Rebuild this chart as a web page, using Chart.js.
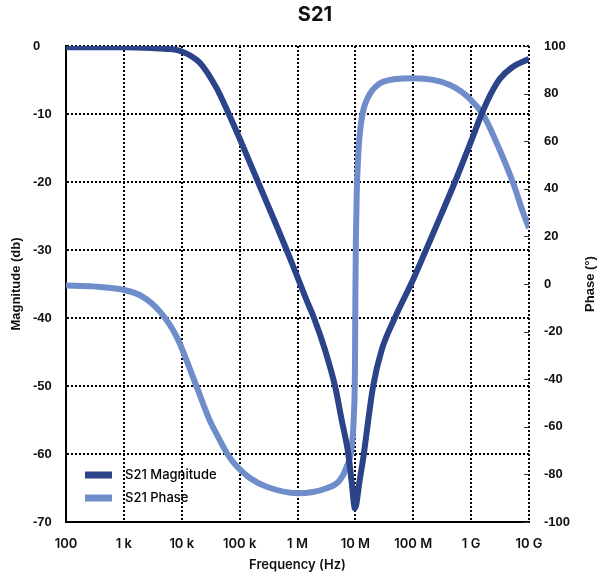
<!DOCTYPE html>
<html>
<head>
<meta charset="utf-8">
<script src="https://cdn.jsdelivr.net/npm/chart.js@4.4.1/dist/chart.umd.min.js"></script>
<style>
  html, body { margin: 0; padding: 0; background: #fff; }
  #wrap { width: 597px; height: 579px; }
</style>
</head>
<body>
<div id="wrap"><canvas id="s21Chart"></canvas></div>
<script>
// S21 magnitude (dB) vs frequency (Hz)
const magFreq = [100, 300, 1e3, 3e3, 5e3, 1e4, 2.07e4, 4e4, 6.5e4, 1e5, 2.08e5, 4e5, 6.5e5, 1e6, 1.44e6, 1.93e6, 2.99e6, 4.45e6, 5.8e6, 7.55e6, 8.6e6, 9.84e6, 1.18e7, 1.4e7, 1.67e7, 2.03e7, 2.85e7, 4.8e7, 1e8, 1.66e8, 3e8, 5.25e8, 1e9, 1.52e9, 2.2e9, 3.16e9, 5e9, 1e10];
const magDb = [-0.2, -0.2, -0.2, -0.3, -0.4, -0.8, -2.5, -6.2, -10, -13.6, -20, -25.7, -30, -34, -37.4, -40, -44.7, -50, -55, -60, -64, -68, -64, -60, -55, -50, -44.7, -40, -34.3, -30, -24.9, -20, -14, -10, -7, -4.8, -3.2, -1.9];

// S21 phase (deg) vs frequency (Hz)
const phaseFreq = [100, 300, 1e3, 2e3, 4.2e3, 8.1e3, 1.8e4, 3e4, 4.2e4, 6e4, 8e4, 1e5, 1.5e5, 2.94e5, 1e6, 3.19e6, 5.4e6, 7.08e6, 8.63e6, 9.46e6, 9.84e6, 1e7, 1.02e7, 1.055e7, 1.1e7, 1.16e7, 1.24e7, 1.37e7, 1.55e7, 1.79e7, 2.2e7, 3.04e7, 1e8, 4.31e8, 1e9, 1.62e9, 3.16e9, 5.4e9, 7.9e9, 1e10];
const phaseDeg = [-0.6, -1, -2.5, -5, -11.6, -22, -43, -57, -64, -71, -75.3, -77.8, -81.5, -85.2, -87.9, -85.8, -82.4, -76.8, -68.4, -54, -35, -5, 18, 38, 50, 60, 67, 73, 77, 80, 82.7, 85, 86.4, 83.6, 77.3, 71, 56, 42, 30, 23.5];

// axis ticks
const freqTicks = [1e2, 1e3, 1e4, 1e5, 1e6, 1e7, 1e8, 1e9, 1e10];
const freqTickLabels = ['100', '1 k', '10 k', '100 k', '1 M', '10 M', '100 M', '1 G', '10 G'];

const magColor = '#2b4489';
const phaseColor = '#6f8dca';
const tickFont = { family: '"Liberation Sans", Arial, sans-serif', size: 13, weight: 'bold' };

const toPoints = function (xs, ys) {
    return xs.map(function (x, i) { return { x: x, y: ys[i] }; });
};

// dotted grid: in Chart.js v4 the dash of grid lines comes from border.dash
const gridStyle = {
    color: '#000',
    lineWidth: 2,
    drawTicks: false
};
const borderStyle = { display: true, color: '#000', width: 2, dash: [2, 2] };

const extrasPlugin = {
    id: 'extras',
    afterDraw: function (chart) {
        const ctx = chart.ctx;
        const area = chart.chartArea;
        const y2 = chart.scales.y2;

        // small tick marks on the inner side of the right axis
        ctx.save();
        ctx.strokeStyle = '#333';
        ctx.lineWidth = 1;
        y2.ticks.forEach(function (t) {
            const py = Math.round(y2.getPixelForValue(t.value)) + 0.5;
            ctx.beginPath();
            ctx.moveTo(area.right - 5, py);
            ctx.lineTo(area.right, py);
            ctx.stroke();
        });

        // rotated axis titles
        ctx.fillStyle = '#111';
        ctx.font = 'bold 13px "Liberation Sans", Arial, sans-serif';
        ctx.textAlign = 'center';
        ctx.textBaseline = 'middle';
        ctx.save();
        ctx.translate(16, (area.top + area.bottom) / 2);
        ctx.rotate(-Math.PI / 2);
        ctx.fillText('Magnitude (db)', 0, 0);
        ctx.restore();
        ctx.save();
        ctx.translate(590, (area.top + area.bottom) / 2);
        ctx.rotate(-Math.PI / 2);
        ctx.fillText('Phase (°)', 0, 0);
        ctx.restore();

        // legend inside the plot, bottom left
        const items = [
            { label: 'S21 Magnitude', color: magColor, y: 475 },
            { label: 'S21 Phase', color: phaseColor, y: 498 }
        ];
        ctx.font = '500 13px Inter, sans-serif';
        ctx.textAlign = 'left';
        items.forEach(function (it) {
            ctx.fillStyle = it.color;
            ctx.fillRect(85, it.y - 3.5, 27, 7);
            ctx.fillStyle = '#000';
            ctx.fillText(it.label, 125, it.y + 0.5);
        });
        ctx.restore();
    }
};

new Chart(document.getElementById('s21Chart'), {
    type: 'line',
    data: {
        datasets: [{
            label: 'S21 Magnitude',
            data: toPoints(magFreq, magDb),
            yAxisID: 'y',
            borderColor: magColor,
            borderWidth: 6,
            pointRadius: 0,
            cubicInterpolationMode: 'monotone',
            fill: false
        }, {
            label: 'S21 Phase',
            data: toPoints(phaseFreq, phaseDeg),
            yAxisID: 'y2',
            borderColor: phaseColor,
            borderWidth: 6,
            pointRadius: 0,
            cubicInterpolationMode: 'monotone',
            fill: false
        }]
    },
    options: {
        responsive: true,
        maintainAspectRatio: false,
        animation: false,
        layout: { padding: { left: 33, right: 0, top: 0, bottom: 0 } },
        plugins: {
            legend: { display: false },
            tooltip: { enabled: false },
            title: {
                display: true,
                text: 'S21',
                color: '#111',
                font: { family: 'Inter, sans-serif', size: 20, weight: 'bold' },
                padding: { top: 3, bottom: 19 }
            }
        },
        scales: {
            x: {
                type: 'logarithmic',
                min: 100,
                max: 1e10,
                afterBuildTicks: function (scale) {
                    scale.ticks = freqTicks.map(function (v) { return { value: v }; });
                },
                afterFit: function (scale) { scale.height = 57; },
                ticks: {
                    autoSkip: false,
                    maxRotation: 0,
                    padding: 14,
                    color: '#111',
                    font: { family: 'Inter, sans-serif', size: 13, weight: '600' },
                    callback: function (value, index) { return freqTickLabels[index]; }
                },
                grid: gridStyle,
                border: borderStyle,
                title: {
                    display: true,
                    text: 'Frequency (Hz)',
                    color: '#111',
                    font: { family: 'Inter, sans-serif', size: 13, weight: '600' },
                    padding: { top: 0, bottom: 6 }
                }
            },
            y: {
                position: 'left',
                min: -70,
                max: 0,
                afterFit: function (scale) { scale.width = 33; },
                ticks: { stepSize: 10, crossAlign: 'far', color: '#111', font: tickFont },
                grid: gridStyle,
                border: borderStyle
            },
            y2: {
                position: 'right',
                min: -100,
                max: 100,
                afterFit: function (scale) { scale.width = 68; },
                ticks: { stepSize: 20, padding: 15, color: '#111', font: tickFont },
                grid: { drawOnChartArea: false, drawTicks: false },
                border: { display: false }
            }
        }
    },
    plugins: [extrasPlugin]
});
</script>
</body>
</html>
